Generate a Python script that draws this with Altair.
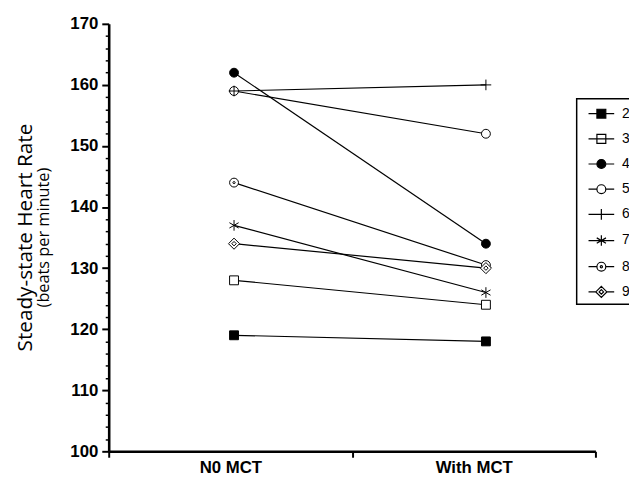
import altair as alt
import pandas as pd

# ---- data ----
subjects = ["2", "3", "4", "5", "6", "7", "8", "9"]
no_mct = [119, 128, 162, 159, 159, 137, 144, 134]
with_mct = [118, 124, 134, 152, 160, 126, 130.5, 130]
conditions = ["N0 MCT", "With MCT"]
cond_pos = [0.515, 1.55]          # where each condition's points sit on the x axis (0..2)
x_label_pos = [0.5, 1.5]
y_ticks = list(range(100, 171, 2))

rows = []
for s, a, b in zip(subjects, no_mct, with_mct):
    rows.append({"subject": s, "condition": conditions[0], "pos": cond_pos[0], "hr": a})
    rows.append({"subject": s, "condition": conditions[1], "pos": cond_pos[1], "hr": b})
df = pd.DataFrame(rows)

# ---- marker shapes (style) ----
def f(v):
    return f"{v:.3f}".rstrip("0").rstrip(".")

def circ(r):
    return f"M{f(r)},0A{f(r)},{f(r)},0,1,1,{f(-r)},0A{f(r)},{f(r)},0,1,1,{f(r)},0Z"

def sq(r):
    return f"M{f(-r)},{f(-r)}H{f(r)}V{f(r)}H{f(-r)}Z"

def dia(r):
    return f"M0,{f(-r)}L{f(r)},0L0,{f(r)}L{f(-r)},0Z"

def plus(r):
    return f"M{f(-r)},0H{f(r)}M0,{f(-r)}V{f(r)}"

def star(r):
    a = 0.866 * r
    b = 0.5 * r
    return f"M0,{f(-r)}V{f(r)}M{f(-a)},{f(-b)}L{f(a)},{f(b)}M{f(-a)},{f(b)}L{f(a)},{f(-b)}"

kinds = ["sq", "sq", "circ", "circ", "plus", "star", "circdot", "diadot"]
fills = ["black", "white", "black", "white", "white", "white", "white", "white"]
strokes = ["black"] * len(subjects)
widths = [1, 1, 1, 1, 2.8, 2.0, 1.1, 1.1]
legend_widths = [1.2, 1.2, 1.2, 1.2, 1.8, 1.6, 1.2, 1.2]

def marker(kind, r):
    if kind == "sq":
        return sq(r), None
    if kind == "circ":
        return circ(r), r
    if kind == "plus":
        return plus(1.2 * r), None
    if kind == "star":
        return star(1.2 * r), None
    if kind == "circdot":
        return circ(r) + circ(0.25 * r), r
    if kind == "diadot":
        return dia(1.25 * r) + dia(0.5 * r), 1.25 * r
    return circ(r), r

data_paths = [marker(k, 1.0)[0] for k in kinds]

legend_paths = []
L = 1.3
for k in kinds:
    p, ext = marker(k, 0.45)
    if ext is None:
        line = f"M{f(-L)},0H{f(L)}"
    else:
        line = f"M{f(-L)},0H{f(-ext)}M{f(ext)},0H{f(L)}"
    legend_paths.append(line + p)

# ---- axes ----
x_label_expr = (
    f"datum.value == {x_label_pos[0]} ? '{conditions[0]}' : "
    f"datum.value == {x_label_pos[1]} ? '{conditions[1]}' : ''"
)
x_enc = alt.X(
    "pos:Q",
    scale=alt.Scale(domain=[0, 2], nice=False, zero=False),
    axis=alt.Axis(
        values=[0, x_label_pos[0], 1, x_label_pos[1], 2],
        labelExpr=x_label_expr,
        tickOpacity={"condition": {"test": f"datum.value == {x_label_pos[0]} || datum.value == {x_label_pos[1]}", "value": 0}, "value": 1},
        tickSize=6,
        tickWidth=2,
        domainWidth=2.6,
        labelFontSize=17,
        labelFontWeight="bold",
        labelPadding=2,
        labelFlush=False,
        labelOverlap=False,
        title=None,
    ),
)
y_enc = alt.Y(
    "hr:Q",
    scale=alt.Scale(domain=[100, 170], nice=False, zero=False),
    axis=alt.Axis(
        values=y_ticks,
        labelExpr="datum.value % 10 == 0 ? datum.label : ''",
        tickSize={"condition": {"test": "datum.value % 10 == 0", "value": 7}, "value": 3.5},
        tickWidth={"condition": {"test": "datum.value % 10 == 0", "value": 2}, "value": 1.5},
        domainWidth=2.6,
        labelFontSize=17,
        labelFontWeight="bold",
        labelPadding=4,
        labelOverlap=False,
        labelFlush=False,
        title=None,
    ),
)

base = alt.Chart(df)

lines = base.mark_line(color="black", strokeWidth=1.2).encode(
    x=x_enc, y=y_enc, detail="subject:N"
)

points = base.mark_point(stroke="black", opacity=1, fillOpacity=1, size=81).encode(
    x=x_enc,
    y=y_enc,
    shape=alt.Shape("subject:N", scale=alt.Scale(domain=subjects, range=data_paths), legend=None),
    fill=alt.Fill("subject:N", scale=alt.Scale(domain=subjects, range=fills), legend=None),
    strokeWidth=alt.StrokeWidth("subject:N", scale=alt.Scale(domain=subjects, range=widths), legend=None),
)

legend_def = alt.Legend(
    title=None,
    orient="none",
    legendX=474,
    legendY=76,
    strokeColor="black",
    fillColor="white",
    padding=4,
    symbolSize=400,
    symbolOffset=10,
    labelOffset=10,
    rowPadding=7.5,
    labelFontSize=14,
    labelFont="Liberation Sans",
    labelColor="black",
    symbolStrokeColor="black",
    symbolStrokeWidth=1.2,
    symbolOpacity=1,
    labelExpr="datum.label + '    '",
)

legend_layer = base.transform_filter("false").mark_point(filled=True, opacity=1, fillOpacity=1, size=400).encode(
    x=x_enc,
    y=y_enc,
    shape=alt.Shape("subject:N", scale=alt.Scale(domain=subjects, range=legend_paths), legend=legend_def),
    fill=alt.Fill("subject:N", scale=alt.Scale(domain=subjects, range=fills), legend=legend_def),
    stroke=alt.Stroke("subject:N", scale=alt.Scale(domain=subjects, range=strokes), legend=legend_def),
    strokeWidth=alt.StrokeWidth("subject:N", scale=alt.Scale(domain=subjects, range=legend_widths), legend=legend_def),
)

chart = (
    alt.layer(lines, points, legend_layer)
    .resolve_scale(shape="independent", fill="independent", stroke="independent", strokeWidth="independent")
    .properties(
        width=493,
        height=433,
        autosize=alt.AutoSizeParams(type="none"),
        padding={"left": 102, "top": 13, "right": 34, "bottom": 25},
        title=alt.TitleParams(
            text="Steady-state Heart Rate",
            subtitle="(beats per minute)",
            orient="left",
            anchor="middle",
            fontSize=21,
            subtitleFontSize=16.5,
            fontWeight="normal",
            font="Open Sans",
            subtitleFont="Open Sans",
            color="black",
            subtitleColor="black",
            offset=18,
            subtitlePadding=0,
        ),
    )
    .configure_view(stroke=None)
    .configure_axis(grid=False, domainColor="black", tickColor="black", labelColor="black", labelFont="Liberation Sans")
    .configure_legend(strokeWidth=1.5)
)

chart.save("out.html", embed_options={"renderer": "svg", "actions": False})
